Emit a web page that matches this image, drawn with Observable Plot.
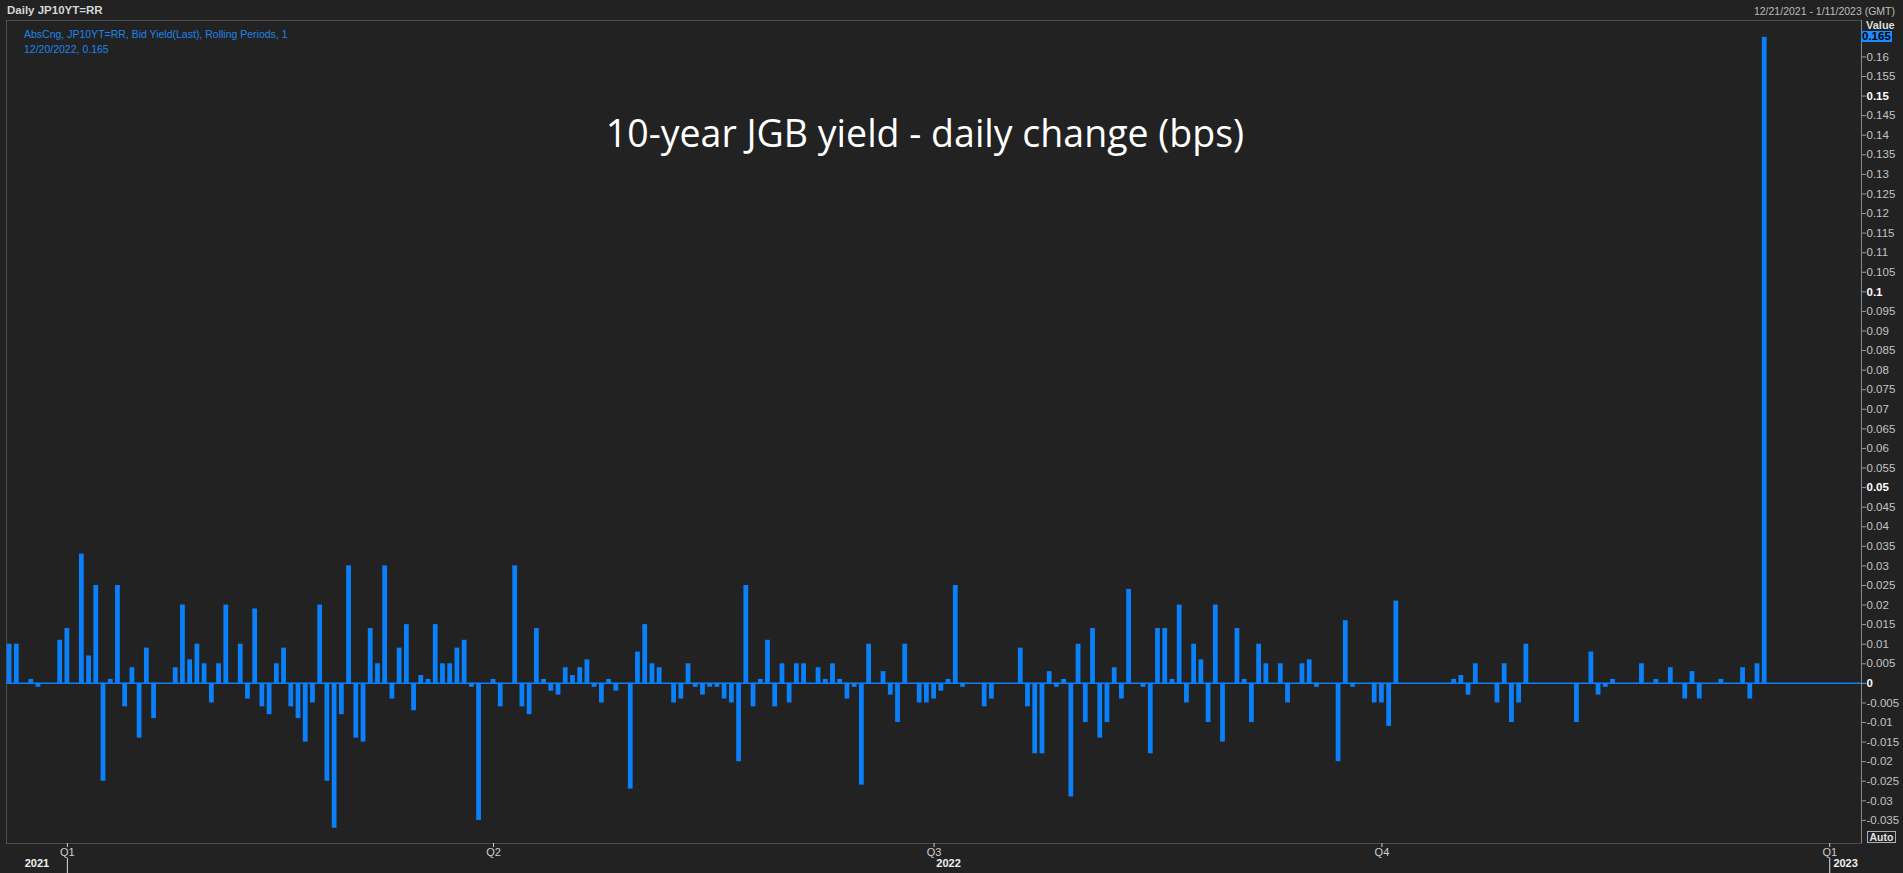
<!DOCTYPE html>
<html>
<head>
<meta charset="utf-8">
<script src="https://cdn.jsdelivr.net/npm/d3@7"></script>
<script src="https://cdn.jsdelivr.net/npm/@observablehq/plot@0.6"></script>
<style>
html, body { margin: 0; padding: 0; background: #222222; overflow: hidden; }
#wrap { position: relative; width: 1903px; height: 873px; background: #222222; font-family: "Liberation Sans", Arial, sans-serif; }
#hdrL { position: absolute; left: 7px; top: 3px; font-size: 11.5px; font-weight: bold; color: #d6d6d6; line-height: 14px; }
#hdrR { position: absolute; right: 8px; top: 4px; font-size: 10.5px; color: #bdbdbd; line-height: 14px; }
#chart { position: absolute; left: 0; top: 19px; }
.leg { position: absolute; left: 24px; font-size: 10.5px; color: #1d85ea; line-height: 14px; white-space: nowrap; }
#title { position: absolute; left: 425px; width: 1000px; top: 114px; text-align: center; font-family: "Open Sans", sans-serif; font-size: 37.5px; line-height: 1; color: #ffffff; white-space: nowrap; }
#valHead { position: absolute; left: 1866px; top: 20px; font-size: 11px; font-weight: bold; color: #dcdcdc; line-height: 11px; }
#valBox { position: absolute; left: 1861px; top: 31px; width: 31px; height: 11px; background: #1a8cff; color: #000; font-size: 11.5px; font-weight: bold; line-height: 11px; padding-left: 1px; box-sizing: border-box; }
#auto { position: absolute; left: 1867px; top: 831px; width: 29px; height: 12px; border: 1px solid #b0b0b0; box-sizing: border-box; color: #e0e0e0; font-size: 10.5px; font-weight: bold; line-height: 10px; text-align: center; }
</style>
</head>
<body>
<div id="wrap">
  <div id="hdrL">Daily JP10YT=RR</div>
  <div id="hdrR">12/21/2021 - 1/11/2023 (GMT)</div>
  <div id="chart"></div>
  <div class="leg" id="leg1" style="top:27px">AbsCng, JP10YT=RR, Bid Yield(Last), Rolling Periods, 1</div>
  <div class="leg" id="leg2" style="top:42px"></div>
  <div id="title">10-year JGB yield - daily change (bps)</div>
  <div id="valHead">Value</div>
  <div id="valBox"></div>
  <div id="auto">Auto</div>
</div>
<script>
// Daily absolute change of JP10YT=RR bid yield, one value per trading day starting 12/21/2021
const firstDate = "12/21/2021";
const lastDate = "12/20/2022";
const changes = [
  0.010, 0.010, 0, 0.001, -0.001, 0, 0, 0.011, 0.014, 0,
  0.033, 0.007, 0.025, -0.025, 0.001, 0.025, -0.006, 0.004, -0.014, 0.009,
  -0.009, 0, 0, 0.004, 0.020, 0.006, 0.010, 0.005, -0.005, 0.005,
  0.020, 0, 0.010, -0.004, 0.019, -0.006, -0.008, 0.005, 0.009, -0.006,
  -0.009, -0.015, -0.005, 0.020, -0.025, -0.037, -0.008, 0.030, -0.014, -0.015,
  0.014, 0.005, 0.030, -0.004, 0.009, 0.015, -0.007, 0.002, 0.001, 0.015,
  0.005, 0.005, 0.009, 0.011, -0.001, -0.035, 0, 0.001, -0.006, 0,
  0.030, -0.006, -0.008, 0.014, 0.001, -0.002, -0.003, 0.004, 0.002, 0.004,
  0.006, -0.001, -0.005, 0.001, -0.002, 0, -0.027, 0.008, 0.015, 0.005,
  0.004, 0, -0.005, -0.004, 0.005, -0.001, -0.003, -0.001, -0.001, -0.004,
  -0.005, -0.020, 0.025, -0.006, 0.001, 0.011, -0.006, 0.005, -0.005, 0.005,
  0.005, 0, 0.004, 0.001, 0.005, 0.001, -0.004, -0.001, -0.026, 0.010,
  0, 0.003, -0.003, -0.010, 0.010, 0, -0.005, -0.005, -0.004, -0.002,
  0.001, 0.025, -0.001, 0, 0, -0.006, -0.004, 0, 0, 0,
  0.009, -0.006, -0.018, -0.018, 0.003, -0.001, 0.001, -0.029, 0.010, -0.010,
  0.014, -0.014, -0.010, 0.004, -0.004, 0.024, 0, -0.001, -0.018, 0.014,
  0.014, 0.001, 0.020, -0.005, 0.010, 0.006, -0.010, 0.020, -0.015, 0,
  0.014, 0.001, -0.010, 0.010, 0.005, 0, 0.005, -0.005, 0, 0.005,
  0.006, -0.001, 0, 0, -0.020, 0.016, -0.001, 0, 0, -0.005,
  -0.005, -0.011, 0.021, 0, 0, 0, 0, 0, 0, 0,
  0.001, 0.002, -0.003, 0.005, 0, 0, -0.005, 0.005, -0.010, -0.005,
  0.010, 0, 0, 0, 0, 0, 0, -0.010, 0, 0.008,
  -0.003, -0.001, 0.001, 0, 0, 0, 0.005, 0, 0.001, 0,
  0.004, 0, -0.004, 0.003, -0.004, 0, 0, 0.001, 0, 0,
  0.004, -0.004, 0.005, 0.165
];
// trading-day index at which each quarter starts, and its label
const quarterStarts = [8, 67, 128, 190, 252];
const quarterLabels = ["Q1", "Q2", "Q3", "Q4", "Q1"];
const yearLabels = ["2021", "2022", "2023"];
// y tick values
const yTicks = [-0.035, -0.03, -0.025, -0.02, -0.015, -0.01, -0.005, 0, 0.005, 0.01,
  0.015, 0.02, 0.025, 0.03, 0.035, 0.04, 0.045, 0.05, 0.055, 0.06, 0.065, 0.07,
  0.075, 0.08, 0.085, 0.09, 0.095, 0.1, 0.105, 0.11, 0.115, 0.12, 0.125, 0.13,
  0.135, 0.14, 0.145, 0.15, 0.155, 0.16, 0.165];
const yBoldTicks = [0, 0.05, 0.1, 0.15];

const barColor = "#0a80fa";
const fmt = d => String(+d.toFixed(3));

const data = changes.map((v, i) => ({i, v}));
const xDomain = [-0.43, 256.4];
const yDomain = [-0.0409, 0.1693];

const last = changes[changes.length - 1];
// year label positions: middle of each visible year span (boundaries at Q1 starts)
const yearBounds = quarterStarts.filter((d, k) => quarterLabels[k] === "Q1");
const edges = [xDomain[0], ...yearBounds, xDomain[1]];
const years = yearLabels.map((label, k) => ({label, x: (edges[k] + edges[k + 1]) / 2}));
const qLabel = new Map(quarterStarts.map((d, k) => [d, quarterLabels[k]]));
// the tick at the current value is labelled by the value box instead
const regularTicks = yTicks.filter(t => !yBoldTicks.includes(t));

document.getElementById("leg2").textContent = `${lastDate}, ${fmt(last)}`;
document.getElementById("valBox").textContent = fmt(last);

const plot = Plot.plot({
  width: 1903,
  height: 854,
  marginTop: 1,
  marginBottom: 30,
  marginLeft: 6,
  marginRight: 42,
  style: {background: "transparent", color: "#c4c4c4", fontFamily: "Liberation Sans, Arial, sans-serif", fontSize: "11.5px", overflow: "visible"},
  x: {domain: xDomain, axis: null},
  y: {domain: yDomain, axis: null},
  marks: [
    Plot.frame({stroke: "#4c4c4c"}),
    Plot.ruleY([0], {stroke: barColor, strokeWidth: 1.5}),
    Plot.rect(data.filter(d => d.v !== 0), {x1: d => d.i - 0.33, x2: d => d.i + 0.33, y1: () => 0, y2: "v", fill: barColor}),
    Plot.ruleX([xDomain[1]], {stroke: "#8a8a8a"}),
    Plot.axisY({anchor: "right", label: null, ticks: regularTicks, tickSize: 4, tickPadding: 1, tickFormat: t => (t === last ? "" : fmt(t)), stroke: "#9a9a9a", fill: "#c4c4c4"}),
    Plot.axisY({anchor: "right", label: null, ticks: yBoldTicks, tickSize: 4, tickPadding: 1, tickFormat: fmt, stroke: "#9a9a9a", fill: "#ffffff", fontWeight: "bold"}),
    Plot.axisX({anchor: "bottom", label: null, ticks: quarterStarts, tickSize: 4, tickPadding: 1, tickFormat: d => qLabel.get(d), stroke: "#cfcfcf", fill: "#cfcfcf", fontSize: 11}),
    Plot.axisX({anchor: "bottom", label: null, ticks: yearBounds, tickSize: 15, tickFormat: () => "", stroke: "#dddddd", dy: 15}),
    Plot.text(years, {x: "x", text: "label", frameAnchor: "bottom", dy: 23, fill: "#f0f0f0", fontWeight: "bold", fontSize: 11})
  ]
});
document.getElementById("chart").appendChild(plot);
</script>
</body>
</html>
